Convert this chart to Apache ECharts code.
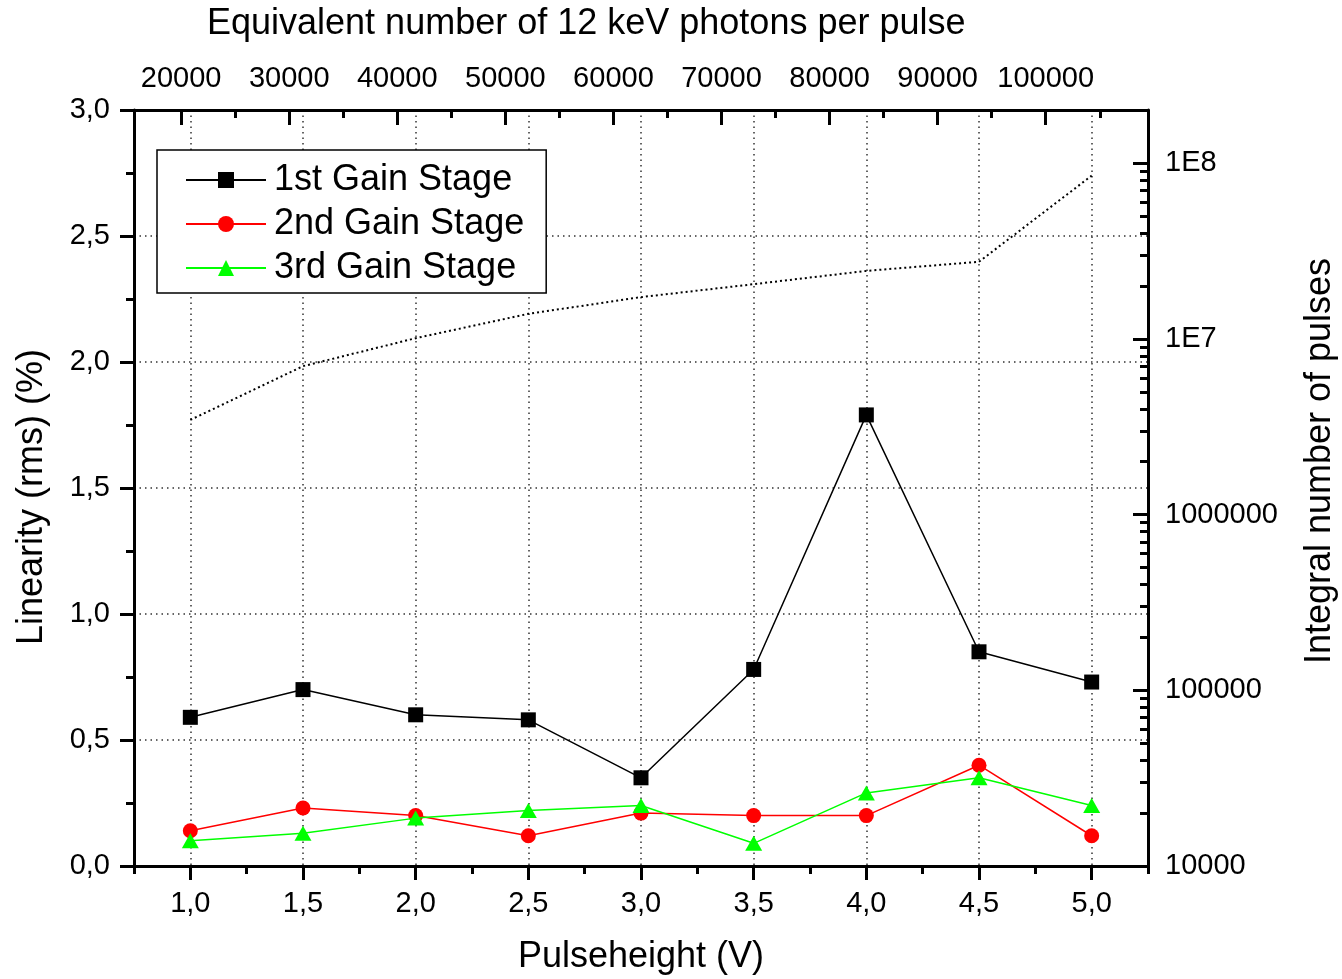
<!DOCTYPE html>
<html>
<head>
<meta charset="utf-8">
<script src="https://cdn.jsdelivr.net/npm/echarts@6/dist/echarts.min.js"></script>
<style>
  html, body { margin: 0; padding: 0; background: #fff; }
  #chart { width: 1342px; height: 979px; }
</style>
</head>
<body>
<div id="chart"></div>
<script>
// pulse height (V) of each measurement
const pulseHeight = [1.0, 1.5, 2.0, 2.5, 3.0, 3.5, 4.0, 4.5, 5.0];
// linearity (rms, %) per gain stage
const gain1 = [0.59, 0.70, 0.60, 0.58, 0.35, 0.78, 1.79, 0.85, 0.73];
const gain2 = [0.14, 0.23, 0.20, 0.12, 0.21, 0.20, 0.20, 0.40, 0.12];
const gain3 = [0.10, 0.13, 0.19, 0.22, 0.24, 0.09, 0.29, 0.35, 0.24];
// integral number of pulses (right log axis)
const pulses = [3.46e6, 7.0e6, 1.01e7, 1.39e7, 1.73e7, 2.05e7, 2.44e7, 2.75e7, 8.5e7];

// tick positions
const bottomTicks = [1.0, 1.5, 2.0, 2.5, 3.0, 3.5, 4.0, 4.5, 5.0];
const bottomMinor = [0.75, 1.25, 1.75, 2.25, 2.75, 3.25, 3.75, 4.25, 4.75, 5.25];
const topTicks = [20000, 30000, 40000, 50000, 60000, 70000, 80000, 90000, 100000];
const topMinor = [25000, 35000, 45000, 55000, 65000, 75000, 85000, 95000, 105000];
const rightMinor = [
  2e4, 3e4, 4e4, 5e4, 6e4, 7e4, 8e4, 9e4,
  2e5, 3e5, 4e5, 5e5, 6e5, 7e5, 8e5, 9e5,
  2e6, 3e6, 4e6, 5e6, 6e6, 7e6, 8e6, 9e6,
  2e7, 3e7, 4e7, 5e7, 6e7, 7e7, 8e7, 9e7
];

const xMin = 0.75, xMax = 5.25;
const photonsPerVolt = 20850;
const rightMin = 1e4, rightMax = 2.01e8;

const FONT = 'Liberation Sans, Arial, sans-serif';
const comma = v => v.toFixed(1).replace('.', ',');
const gridDots = { color: '#333', width: 1.5, type: [1.5, 4] };
const tickLine = { color: '#000', width: 3 };

const chart = echarts.init(document.getElementById('chart'));

chart.setOption({
  animation: false,
  backgroundColor: '#fff',
  textStyle: { fontFamily: FONT, color: '#000' },
  title: {
    text: 'Equivalent number of 12 keV photons per pulse',
    left: 207,
    top: 6,
    padding: 0,
    textStyle: { fontFamily: FONT, fontSize: 36, fontWeight: 'normal', color: '#000' }
  },
  grid: { left: 134, right: 194, top: 110, bottom: 113, outerBoundsMode: 'none' },
  legend: {
    data: ['1st Gain Stage', '2nd Gain Stage', '3rd Gain Stage'],
    orient: 'vertical',
    left: 157,
    top: 150,
    itemWidth: 80,
    itemHeight: 20,
    itemGap: 8,
    padding: [12, 22, 7, 28],
    backgroundColor: '#fff',
    borderColor: '#000',
    borderWidth: 1.5,
    textStyle: { fontFamily: FONT, fontSize: 36, lineHeight: 36, color: '#000', padding: [0, 0, 0, 3] }
  },
  xAxis: [
    {
      type: 'value',
      position: 'bottom',
      min: xMin,
      max: xMax,
      name: 'Pulseheight (V)',
      nameLocation: 'middle',
      nameGap: 73,
      nameTextStyle: { fontFamily: FONT, fontSize: 36, color: '#000' },
      axisLine: { lineStyle: { color: '#000', width: 3 } },
      axisTick: { customValues: bottomTicks, length: 14, lineStyle: tickLine },
      axisLabel: { customValues: bottomTicks, formatter: comma, fontSize: 29, margin: 23, color: '#000' },
      splitLine: { show: true, lineStyle: gridDots }
    },
    {
      type: 'value',
      position: 'bottom',
      min: xMin,
      max: xMax,
      axisLine: { show: false },
      axisTick: { customValues: bottomMinor, length: 8, lineStyle: tickLine },
      axisLabel: { show: false },
      splitLine: { show: false }
    },
    {
      type: 'value',
      position: 'top',
      min: xMin * photonsPerVolt,
      max: xMax * photonsPerVolt,
      axisLine: { lineStyle: { color: '#000', width: 3 } },
      axisTick: { customValues: topTicks, inside: true, length: 15, lineStyle: tickLine },
      axisLabel: { customValues: topTicks, formatter: v => String(v), fontSize: 29, margin: 17, color: '#000' },
      splitLine: { show: false }
    },
    {
      type: 'value',
      position: 'top',
      min: xMin * photonsPerVolt,
      max: xMax * photonsPerVolt,
      axisLine: { show: false },
      axisTick: { customValues: topMinor, inside: true, length: 8, lineStyle: tickLine },
      axisLabel: { show: false },
      splitLine: { show: false }
    }
  ],
  yAxis: [
    {
      type: 'value',
      position: 'left',
      min: 0,
      max: 3,
      interval: 0.5,
      name: 'Linearity (rms) (%)',
      nameLocation: 'middle',
      nameRotate: 90,
      nameGap: 84,
      nameTextStyle: { fontFamily: FONT, fontSize: 36, color: '#000', padding: [0, 18, 0, 0] },
      axisLine: { lineStyle: { color: '#000', width: 3 } },
      axisTick: { length: 14, lineStyle: tickLine },
      minorTick: { show: true, splitNumber: 2, length: 8, lineStyle: tickLine },
      axisLabel: { formatter: comma, fontSize: 29, margin: 24, color: '#000' },
      splitLine: { show: true, lineStyle: gridDots }
    },
    {
      type: 'log',
      logBase: 10,
      position: 'right',
      min: rightMin,
      max: rightMax,
      name: 'Integral number of pulses',
      nameLocation: 'middle',
      nameRotate: 90,
      nameGap: 154,
      nameTextStyle: { fontFamily: FONT, fontSize: 36, color: '#000', padding: [0, 0, 0, 54] },
      axisLine: { lineStyle: { color: '#000', width: 3 } },
      axisTick: { inside: true, length: 15, lineStyle: tickLine },
      axisLabel: {
        fontSize: 29,
        margin: 17,
        color: '#000',
        formatter: v => {
          const e = Math.round(Math.log10(v));
          if (Math.abs(Math.pow(10, e) - v) > 1) return '';
          return e >= 7 ? '1E' + e : String(Math.pow(10, e));
        }
      },
      splitLine: { show: false }
    },
    {
      type: 'log',
      logBase: 10,
      position: 'right',
      min: rightMin,
      max: rightMax,
      axisLine: { show: false },
      axisTick: { customValues: rightMinor, inside: true, length: 8, lineStyle: tickLine },
      axisLabel: { show: false },
      splitLine: { show: false }
    }
  ],
  series: [
    {
      name: 'Integral number of pulses',
      type: 'line',
      xAxisIndex: 0,
      yAxisIndex: 1,
      data: pulseHeight.map((x, i) => [x, pulses[i]]),
      showSymbol: false,
      symbol: 'none',
      lineStyle: { color: '#000', width: 2, type: [2, 3] },
      z: 2
    },
    {
      name: '1st Gain Stage',
      type: 'line',
      xAxisIndex: 0,
      yAxisIndex: 0,
      data: pulseHeight.map((x, i) => [x, gain1[i]]),
      symbol: 'rect',
      symbolSize: 15,
      itemStyle: { color: '#000' },
      lineStyle: { color: '#000', width: 1.5 },
      z: 3
    },
    {
      name: '2nd Gain Stage',
      type: 'line',
      xAxisIndex: 0,
      yAxisIndex: 0,
      data: pulseHeight.map((x, i) => [x, gain2[i]]),
      symbol: 'circle',
      symbolSize: 15,
      itemStyle: { color: '#ff0000' },
      lineStyle: { color: '#ff0000', width: 1.5 },
      z: 4
    },
    {
      name: '3rd Gain Stage',
      type: 'line',
      xAxisIndex: 0,
      yAxisIndex: 0,
      data: pulseHeight.map((x, i) => [x, gain3[i]]),
      symbol: 'triangle',
      symbolSize: [17, 15],
      itemStyle: { color: '#00ff00' },
      lineStyle: { color: '#00ff00', width: 1.5 },
      z: 5
    }
  ]
});
</script>
</body>
</html>
